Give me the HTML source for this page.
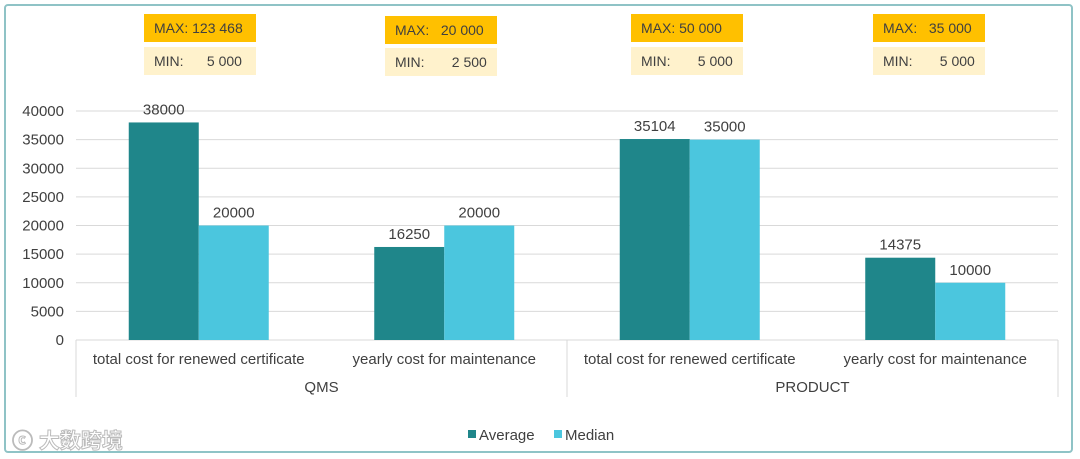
<!DOCTYPE html>
<html><head><meta charset="utf-8"><style>
body{margin:0;background:#fff;width:1080px;height:459px;overflow:hidden;font-family:"Liberation Sans",sans-serif}
.frame{position:absolute;left:4px;top:4px;width:1069px;height:449px;border:2px solid #8fc3c6;border-radius:4px;box-sizing:border-box}
.box{position:absolute;width:112px;height:28px;font-size:14px;color:#404040;line-height:28px;box-sizing:border-box;padding-left:10px}
.mx{background:#ffc000}.mn{background:#fff2cc}
.wm{position:absolute;left:12px;top:425px;font-family:"Liberation Sans","Noto Sans CJK SC",sans-serif;font-size:21px;color:#fff;-webkit-text-stroke:1px #bbb;font-weight:bold}
</style></head><body>
<div class="frame"></div>
<div class="box mx" style="left:144px;top:14px">MAX: 123 468</div>
<div class="box mn" style="left:144px;top:47px">MIN:&nbsp;&nbsp;&nbsp;&nbsp;&nbsp;&nbsp;5 000</div>
<div class="box mx" style="left:385px;top:16px">MAX:&nbsp;&nbsp;&nbsp;20 000</div>
<div class="box mn" style="left:385px;top:48px">MIN:&nbsp;&nbsp;&nbsp;&nbsp;&nbsp;&nbsp;&nbsp;2 500</div>
<div class="box mx" style="left:631px;top:14px">MAX: 50 000</div>
<div class="box mn" style="left:631px;top:47px">MIN:&nbsp;&nbsp;&nbsp;&nbsp;&nbsp;&nbsp;&nbsp;5 000</div>
<div class="box mx" style="left:873px;top:14px">MAX:&nbsp;&nbsp;&nbsp;35 000</div>
<div class="box mn" style="left:873px;top:47px">MIN:&nbsp;&nbsp;&nbsp;&nbsp;&nbsp;&nbsp;&nbsp;5 000</div>
<div class="wm">ⓒ 大数跨境</div>
<svg id="chart" width="1080" height="459" style="position:absolute;left:0;top:0"></svg>
<script>
const categories=["total cost for renewed certificate","yearly cost for maintenance","total cost for renewed certificate","yearly cost for maintenance"];
const groups=["QMS","PRODUCT"];
const averageValues=[38000,16250,35104,14375];
const medianValues=[20000,20000,35000,10000];
const yTicks=[0,5000,10000,15000,20000,25000,30000,35000,40000];
const seriesNames=["Average","Median"];
const colors=["#1f868a","#4bc6de"];
const svg=document.getElementById('chart');
const NS="http://www.w3.org/2000/svg";
const L=76,R=1058,Y0=340,Y1=111,YMAX=40000;
const y=v=>Y0-(v/YMAX)*(Y0-Y1);
const cw=(R-L)/categories.length;
const cx=i=>L+cw*(i+0.5);
const bw=70;
function mk(t,a,txt){const e=document.createElementNS(NS,t);for(const k in a)e.setAttribute(k,a[k]);if(txt!==undefined)e.textContent=txt;svg.appendChild(e);return e;}
yTicks.forEach(v=>{
 const g=mk('line',{x1:L,x2:R,y1:y(v),y2:y(v),stroke:'#d9d9d9','stroke-width':1});
 
 
 const t=mk('text',{x:64,y:y(v)+5,'text-anchor':'end','font-size':15,fill:'#404040'},v);
 
 
});
[L,L+cw*2,R].forEach(x=>{const s=mk('line',{x1:x,x2:x,y1:Y0,y2:397,stroke:'#d9d9d9'});
 
 });
[averageValues,medianValues].forEach((arr,si)=>{
 arr.forEach((v,i)=>{
  const x=cx(i)-bw+si*bw;
  const b=mk('rect',{x:x,y:y(v),width:bw,height:Y0-y(v),fill:colors[si]});
  
  
  const t=mk('text',{x:x+bw/2,y:y(v)-8,'text-anchor':'middle','font-size':15,fill:'#404040'},v);
  
  
 });
});
categories.forEach((c,i)=>{const t=mk('text',{x:cx(i),y:364,'text-anchor':'middle','font-size':15,fill:'#404040'},c);
 
 });
groups.forEach((g,i)=>{const t=mk('text',{x:L+cw*(2*i+1),y:392,'text-anchor':'middle','font-size':15,fill:'#404040'},g);
 
 });
const lx=[468,554];
seriesNames.forEach((n,i)=>{
 const r=mk('rect',{x:lx[i],y:430,width:8,height:8,fill:colors[i]});
 
 
 const t=mk('text',{x:lx[i]+11,y:440,'font-size':15,fill:'#404040'},n);
 
 
});
</script>
</body></html>
